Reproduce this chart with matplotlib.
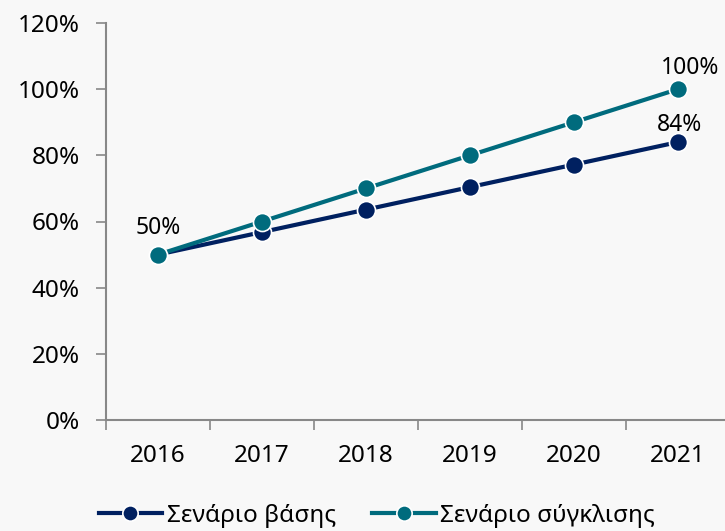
import matplotlib
matplotlib.use("Agg")
import matplotlib.pyplot as plt
from matplotlib.ticker import FixedLocator, FuncFormatter, NullFormatter

plt.rcParams["font.family"] = ["Noto Sans", "DejaVu Sans"]

years = ["2016", "2017", "2018", "2019", "2020", "2021"]
base = [50, 56.8, 63.6, 70.4, 77.2, 84]
convergence = [50, 60, 70, 80, 90, 100]
base_label = "Σενάριο βάσης"
conv_label = "Σενάριο σύγκλισης"

navy = "#002060"
teal = "#006b7d"
bg = "#f8f8f8"
fs = 17.5

W, H = 725, 531
fig = plt.figure(figsize=(W / 100, H / 100), dpi=100, facecolor=bg)
ax = fig.add_axes([106 / W, 1 - 420 / H, 624 / W, 397 / H], facecolor=bg)

xs = list(range(len(years)))
l1, = ax.plot(xs, base, color=navy, lw=3, marker="o", ms=13,
              mfc=navy, mec="white", mew=1.2, label=base_label, zorder=3)
l2, = ax.plot(xs, convergence, color=teal, lw=3, marker="o", ms=13,
              mfc=teal, mec="white", mew=1.2, label=conv_label, zorder=4)

ax.set_xlim(-0.5, len(years) - 0.5)
ax.set_ylim(0, 120)

# labels for first / last points
ax.annotate(f"{convergence[0]:.0f}%", (0, convergence[0]), xytext=(0, 19),
            textcoords="offset points", ha="center", va="center", fontsize=fs - 1)
ax.annotate(f"{convergence[-1]:.0f}%", (5, convergence[-1]), xytext=(9, 15),
            textcoords="offset points", ha="center", va="center", fontsize=fs - 1)
ax.annotate(f"{base[-1]:.0f}%", (5, base[-1]), xytext=(1, 12),
            textcoords="offset points", ha="center", va="center", fontsize=fs - 1)

ax.set_yticks(range(0, 121, 20))
ax.yaxis.set_major_formatter(FuncFormatter(lambda v, p: f"{v:.0f}%"))
ax.tick_params(axis="y", length=7, width=1.2, color="#888888",
               labelsize=fs, pad=12)

ax.xaxis.set_major_locator(FixedLocator([i - 0.5 for i in range(len(years) + 1)]))
ax.xaxis.set_major_formatter(NullFormatter())
ax.xaxis.set_minor_locator(FixedLocator(xs))
ax.set_xticklabels(years, minor=True)
ax.tick_params(axis="x", which="major", length=7, width=1.2, color="#888888")
ax.tick_params(axis="x", which="minor", length=0, labelsize=fs, pad=17)

for s in ["top", "right"]:
    ax.spines[s].set_visible(False)
for s in ["left", "bottom"]:
    ax.spines[s].set_color("#888888")
    ax.spines[s].set_linewidth(1.5)

fig.legend(handles=[l1, l2], loc="center", bbox_to_anchor=(0.52, 1 - 516 / H),
           ncol=2, frameon=False, fontsize=fs, handlelength=2.6,
           columnspacing=1.5, handletextpad=0.2, markerscale=0.85)

fig.savefig("out.png", dpi=100, facecolor=bg)
